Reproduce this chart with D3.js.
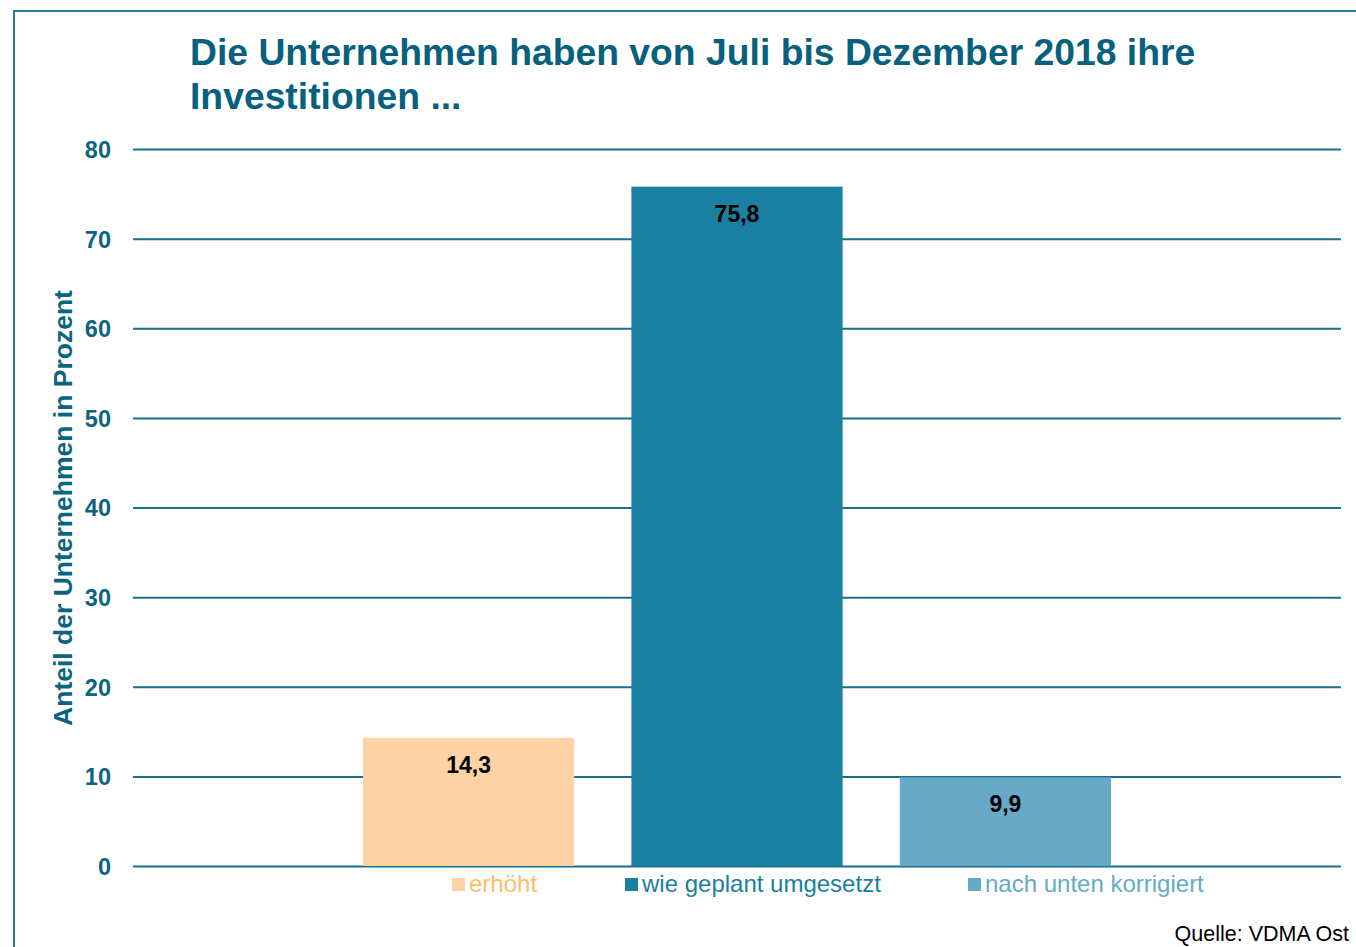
<!DOCTYPE html>
<html>
<head>
<meta charset="utf-8">
<script src="https://cdn.jsdelivr.net/npm/d3@7"></script>
<style>
  html, body { margin: 0; padding: 0; background: #ffffff; }
  svg { display: block; font-family: "Liberation Sans", Arial, sans-serif; }
</style>
</head>
<body>
<svg id="chart" width="1356" height="947"></svg>
<script>
const titleLines = ["Die Unternehmen haben von Juli bis Dezember 2018 ihre", "Investitionen ..."];
const yAxisTitle = "Anteil der Unternehmen in Prozent";
const series = ["erhöht", "wie geplant umgesetzt", "nach unten korrigiert"];
const values = [14.3, 75.8, 9.9];
const valueLabels = ["14,3", "75,8", "9,9"];
const yTicks = [0, 10, 20, 30, 40, 50, 60, 70, 80];
const barColors = ["#fdd3a5", "#1a7fa1", "#66aac8"];
const legendTextColors = ["#fbbd6b", "#1a7fa1", "#66aac8"];
const source = "Quelle: VDMA Ost";

const svg = d3.select("#chart");
const teal = "#0b6581";
const gridColor = "#1b6f8d";

// frame
svg.append("path")
  .attr("d", "M14,947 L14,11 L1356,11")
  .attr("fill", "none").attr("stroke", "#2a7c98").attr("stroke-width", 2);

// title
svg.append("text")
  .attr("x", 190).attr("y", 64.5)
  .attr("fill", "#06607e").attr("font-size", 37.3).attr("font-weight", "bold")
  .selectAll("tspan").data(titleLines).join("tspan")
  .attr("x", 190).attr("dy", (d, i) => i === 0 ? 0 : 44.5).text(d => d);

const plotLeft = 133, plotRight = 1341;
const y = d3.scaleLinear().domain([0, 80]).range([866, 149]);

// gridlines + tick labels via axis
const yAxis = d3.axisLeft(y).tickValues(yTicks).tickSize(-(plotRight - plotLeft)).tickPadding(22).tickFormat(d3.format("d"));
const gAxis = svg.append("g").attr("transform", `translate(${plotLeft},0)`).call(yAxis);
gAxis.select(".domain").remove();
gAxis.selectAll(".tick line").attr("stroke", gridColor).attr("stroke-width", 2);
gAxis.selectAll(".tick text")
  .attr("fill", teal).attr("font-size", 23.5).attr("font-weight", "bold")
  .attr("font-family", "Liberation Sans, Arial, sans-serif")
  .attr("dy", "0.36em");

// y axis title
svg.append("text")
  .attr("transform", "translate(72,508) rotate(-90)")
  .attr("text-anchor", "middle")
  .attr("fill", teal).attr("font-size", 26.5).attr("font-weight", "bold")
  .text(yAxisTitle);

// bars
const x = d3.scaleBand().domain(series).range([363, 1111]).paddingInner(0.213).paddingOuter(0);
svg.append("g").selectAll("rect").data(series).join("rect")
  .attr("x", d => x(d))
  .attr("width", x.bandwidth())
  .attr("y", (d, i) => y(values[i]))
  .attr("height", (d, i) => y(0) - y(values[i]))
  .attr("fill", (d, i) => barColors[i]);

// value labels
svg.append("g").selectAll("text").data(series).join("text")
  .attr("x", d => x(d) + x.bandwidth() / 2)
  .attr("y", (d, i) => y(values[i]) + 35)
  .attr("text-anchor", "middle")
  .attr("font-size", 23).attr("font-weight", "bold").attr("fill", "#000")
  .text((d, i) => valueLabels[i]);

// legend
const legendX = [452, 625, 968];
const lg = svg.append("g").selectAll("g").data(series).join("g")
  .attr("transform", (d, i) => `translate(${legendX[i]},0)`);
lg.append("rect").attr("x", 0).attr("y", 878).attr("width", 13).attr("height", 13)
  .attr("fill", (d, i) => barColors[i]);
lg.append("text").attr("x", 17).attr("y", 892)
  .attr("font-size", 24).attr("fill", (d, i) => legendTextColors[i])
  .text(d => d);

// source
svg.append("text")
  .attr("x", 1349).attr("y", 941).attr("text-anchor", "end")
  .attr("font-size", 21.5).attr("fill", "#000")
  .text(source);
</script>
</body>
</html>
